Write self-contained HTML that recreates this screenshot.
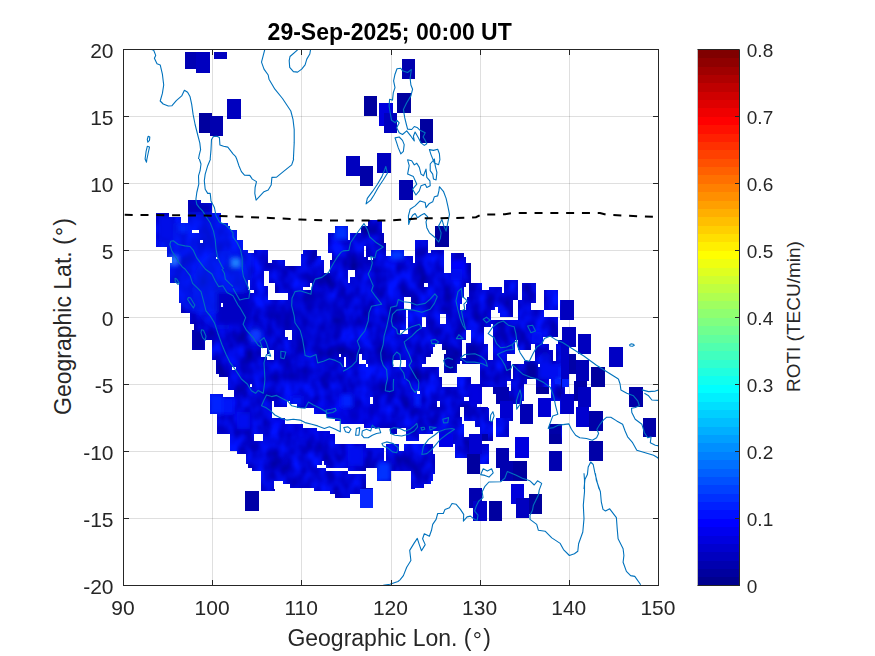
<!DOCTYPE html>
<html><head><meta charset="utf-8"><title>ROTI map</title>
<style>
html,body{margin:0;padding:0;background:#fff;}
body{width:875px;height:656px;overflow:hidden;font-family:"Liberation Sans",sans-serif;}
svg{display:block;}
text{font-family:"Liberation Sans",sans-serif;fill:#262626;}
.tk{font-size:21px;}
.ck{font-size:19px;}
.lb{font-size:23px;}
.tt{font-size:23px;font-weight:bold;fill:#000;}
</style></head><body>
<svg width="875" height="656" viewBox="0 0 875 656">
<rect width="875" height="656" fill="#fff"/>
<defs><clipPath id="ax"><rect x="123.5" y="49.5" width="535.0" height="536.0"/></clipPath></defs>
<g stroke="#262626" stroke-opacity="0.15" stroke-width="1" fill="none" shape-rendering="crispEdges"><path d="M212.5 49.5V585.5M301.5 49.5V585.5M391.5 49.5V585.5M480.5 49.5V585.5M569.5 49.5V585.5"/><path d="M123.5 518.50H658.5M123.5 451.50H658.5M123.5 384.50H658.5M123.5 317.50H658.5M123.5 250.50H658.5M123.5 183.50H658.5M123.5 116.50H658.5"/></g>
<defs><mask id="bm" maskUnits="userSpaceOnUse" x="123.5" y="49.5" width="535.0" height="536.0"><g shape-rendering="crispEdges">
<clipPath id="c1"><rect x="123" y="159" width="146" height="110"/></clipPath>
<g clip-path="url(#c1)">
<polygon points="156.0,213.0 169.4,213.0 169.4,216.8 180.8,216.8 180.8,223.0 187.5,223.0 187.5,199.7 200.6,199.7 200.6,202.9 211.8,202.9 211.8,213.0 220.7,213.0 220.7,223.0 227.8,223.0 227.8,226.4 229.8,226.4 229.8,229.7 236.5,229.7 236.5,239.8 243.2,239.8 243.2,249.9 267.5,249.9 267.5,263.3 269.7,263.3 269.7,269.6 169.9,269.6 169.9,263.3 171.6,263.3 171.6,257.1 167.4,257.1 167.4,246.5 156.0,246.5" fill="#fff"/>
<rect x="192.1" y="229.7" width="6.7" height="3.4" fill="#000"/>
<rect x="200.4" y="239.8" width="2.7" height="3.0" fill="#000"/>
<rect x="247.9" y="249.9" width="6.4" height="3.0" fill="#000"/>
<rect x="216.2" y="257.2" width="2.0" height="2.0" fill="#000"/>
</g>
<clipPath id="c2"><rect x="269" y="159" width="146" height="110"/></clipPath>
<g clip-path="url(#c2)">
<rect x="346.1" y="157.3" width="13.4" height="18.8" fill="#fff"/>
<rect x="377.1" y="157.3" width="13.4" height="15.4" fill="#fff"/>
<polygon points="268.3,263.3 272.0,263.3 272.0,259.9 285.3,259.9 285.3,266.3 300.8,266.3 300.8,253.7 303.4,253.7 303.4,249.9 316.8,249.9 316.8,256.2 321.0,256.2 321.0,259.6 323.5,259.6 323.5,269.6 268.3,269.6" fill="#fff"/>
<polygon points="328.0,233.1 334.7,233.1 334.7,226.4 347.8,226.4 347.8,233.1 361.2,233.1 361.2,226.4 368.2,226.4 368.2,219.7 381.6,219.7 381.6,233.1 383.8,233.1 383.8,242.8 386.0,242.8 386.0,256.2 390.5,256.2 390.5,250.4 403.9,250.4 403.9,256.2 412.8,256.2 412.8,262.9 415.7,262.9 415.7,269.6 330.2,269.6 330.2,259.6 332.4,259.6 332.4,252.9 328.0,252.9" fill="#fff"/>
<rect x="363.7" y="246.2" width="2.5" height="10.9" fill="#000"/>
<rect x="367.9" y="257.1" width="5.0" height="2.8" fill="#000"/>
<rect x="347.8" y="232.9" width="2.5" height="6.7" fill="#000"/>
</g>
<clipPath id="c3"><rect x="415" y="159" width="146" height="110"/></clipPath>
<g clip-path="url(#c3)">
<polygon points="414.3,239.8 428.4,239.8 428.4,252.9 430.6,252.9 430.6,250.4 443.8,250.4 443.8,269.6 414.3,269.6" fill="#fff"/>
<polygon points="450.7,253.2 464.1,253.2 464.1,256.6 466.3,256.6 466.3,263.3 470.8,263.3 470.8,269.6 450.7,269.6" fill="#fff"/>
</g>
<clipPath id="c4"><rect x="123" y="269" width="146" height="110"/></clipPath>
<g clip-path="url(#c4)">
<polygon points="169.9,268.3 269.7,268.3 269.7,379.6 227.8,379.6 227.8,377.1 218.9,377.1 218.9,373.8 216.4,373.8 216.4,360.4 211.8,360.4 211.8,340.2 205.1,340.2 205.1,350.3 192.1,350.3 192.1,330.2 193.7,330.2 193.7,323.5 190.0,323.5 190.0,313.4 181.0,313.4 181.0,303.4 178.8,303.4 178.8,283.2 169.9,283.2" fill="#fff"/>
<rect x="247.9" y="279.9" width="2.5" height="10.1" fill="#000"/>
<rect x="249.9" y="290.0" width="4.4" height="3.4" fill="#000"/>
<rect x="263.8" y="270.7" width="5.9" height="15.1" fill="#000"/>
<rect x="267.5" y="285.8" width="2.2" height="14.2" fill="#000"/>
<rect x="220.7" y="303.4" width="2.5" height="3.4" fill="#000"/>
<rect x="260.8" y="347.8" width="6.4" height="9.2" fill="#000"/>
<rect x="267.2" y="353.6" width="2.5" height="6.7" fill="#000"/>
<rect x="232.3" y="367.4" width="4.0" height="2.3" fill="#000"/>
</g>
<clipPath id="c5"><rect x="269" y="269" width="146" height="110"/></clipPath>
<g clip-path="url(#c5)">
<rect x="268.3" y="268.3" width="147.3" height="111.3" fill="#fff"/>
<rect x="269.0" y="283.2" width="5.9" height="16.8" fill="#000"/>
<rect x="274.9" y="293.3" width="12.9" height="6.7" fill="#000"/>
<rect x="323.5" y="268.3" width="6.7" height="4.9" fill="#000"/>
<rect x="303.4" y="286.6" width="8.9" height="3.4" fill="#000"/>
<rect x="310.1" y="283.2" width="2.2" height="3.4" fill="#000"/>
<rect x="348.1" y="270.3" width="6.7" height="6.2" fill="#000"/>
<rect x="348.1" y="276.5" width="2.2" height="6.7" fill="#000"/>
<rect x="403.9" y="297.2" width="6.7" height="12.9" fill="#000"/>
<rect x="406.1" y="310.1" width="2.3" height="20.1" fill="#000"/>
<rect x="399.7" y="330.2" width="8.7" height="3.4" fill="#000"/>
<rect x="285.3" y="330.2" width="6.7" height="6.7" fill="#000"/>
<rect x="288.3" y="336.9" width="3.7" height="3.4" fill="#000"/>
<rect x="269.0" y="350.3" width="5.4" height="10.1" fill="#000"/>
<rect x="339.1" y="353.6" width="2.3" height="3.4" fill="#000"/>
<rect x="343.6" y="357.0" width="2.2" height="10.1" fill="#000"/>
<rect x="359.2" y="353.6" width="2.3" height="10.1" fill="#000"/>
<rect x="361.5" y="360.4" width="4.4" height="3.4" fill="#000"/>
<rect x="365.9" y="363.7" width="2.0" height="3.4" fill="#000"/>
<rect x="393.0" y="360.4" width="13.1" height="6.7" fill="#000"/>
</g>
<clipPath id="c6"><rect x="415" y="269" width="73" height="55"/></clipPath>
<g clip-path="url(#c6)">
<rect x="414.7" y="268.7" width="73.7" height="55.7" fill="#fff"/>
<rect x="443.9" y="268.7" width="7.0" height="4.7" fill="#000"/>
<rect x="470.7" y="268.7" width="17.6" height="14.6" fill="#000"/>
<rect x="482.0" y="283.2" width="6.3" height="6.7" fill="#000"/>
<rect x="423.8" y="283.2" width="4.6" height="3.5" fill="#000"/>
<rect x="466.3" y="283.2" width="2.3" height="3.8" fill="#000"/>
<rect x="464.0" y="287.0" width="4.6" height="9.6" fill="#000"/>
<rect x="461.9" y="296.7" width="5.4" height="7.5" fill="#000"/>
<rect x="459.8" y="304.2" width="6.3" height="5.9" fill="#000"/>
<rect x="439.5" y="313.8" width="6.7" height="10.5" fill="#000"/>
<rect x="421.7" y="316.8" width="4.4" height="7.5" fill="#000"/>
</g>
<clipPath id="c7"><rect x="488" y="269" width="73" height="55"/></clipPath>
<g clip-path="url(#c7)">
<polygon points="487.7,290.0 488.8,290.0 488.8,287.0 501.8,287.0 501.8,293.3 504.1,293.3 504.1,279.9 517.8,279.9 517.8,300.0 521.9,300.0 521.9,283.4 535.6,283.4 535.6,303.4 531.2,303.4 531.2,310.1 544.2,310.1 544.2,290.0 558.0,290.0 558.0,310.1 544.3,310.1 544.3,316.8 558.0,316.8 558.0,324.3 487.7,324.3" fill="#fff"/>
<rect x="560.1" y="300.0" width="1.3" height="20.1" fill="#fff"/>
<rect x="513.1" y="300.4" width="4.6" height="17.2" fill="#000"/>
<rect x="491.4" y="317.2" width="26.4" height="2.9" fill="#000"/>
<rect x="491.4" y="310.1" width="6.7" height="7.1" fill="#000"/>
<rect x="495.1" y="307.1" width="2.9" height="2.9" fill="#000"/>
<rect x="498.1" y="313.4" width="1.7" height="3.8" fill="#000"/>
</g>
<clipPath id="c8"><rect x="415" y="324" width="73" height="55"/></clipPath>
<g clip-path="url(#c8)">
<rect x="414.7" y="323.7" width="73.7" height="55.7" fill="#fff"/>
<rect x="421.7" y="323.7" width="4.4" height="3.3" fill="#000"/>
<rect x="466.1" y="330.0" width="4.6" height="13.2" fill="#000"/>
<rect x="461.9" y="340.3" width="4.2" height="17.2" fill="#000"/>
<rect x="484.1" y="326.9" width="4.2" height="16.8" fill="#000"/>
<rect x="435.1" y="343.7" width="6.7" height="3.4" fill="#000"/>
<rect x="433.0" y="347.0" width="8.8" height="3.4" fill="#000"/>
<rect x="433.0" y="350.4" width="13.0" height="3.4" fill="#000"/>
<rect x="430.5" y="353.8" width="13.4" height="3.4" fill="#000"/>
<rect x="425.9" y="357.1" width="18.0" height="6.7" fill="#000"/>
<rect x="421.7" y="363.8" width="22.2" height="2.9" fill="#000"/>
<rect x="439.3" y="366.7" width="4.6" height="6.7" fill="#000"/>
<rect x="439.3" y="373.4" width="18.0" height="3.4" fill="#000"/>
<rect x="441.8" y="376.8" width="15.5" height="2.5" fill="#000"/>
<rect x="459.8" y="360.9" width="2.1" height="2.9" fill="#000"/>
<rect x="457.3" y="363.8" width="22.6" height="9.6" fill="#000"/>
<rect x="457.3" y="373.4" width="22.6" height="3.4" fill="#000"/>
<rect x="470.7" y="376.8" width="9.2" height="2.5" fill="#000"/>
</g>
<clipPath id="c9"><rect x="488" y="324" width="73" height="55"/></clipPath>
<g clip-path="url(#c9)">
<rect x="487.7" y="323.7" width="73.7" height="55.7" fill="#fff"/>
<rect x="488.0" y="326.9" width="5.0" height="33.5" fill="#000"/>
<rect x="490.5" y="323.7" width="2.5" height="3.3" fill="#000"/>
<rect x="558.0" y="323.7" width="3.4" height="16.3" fill="#000"/>
<rect x="542.5" y="337.0" width="15.5" height="6.7" fill="#000"/>
<rect x="549.2" y="343.7" width="6.5" height="6.7" fill="#000"/>
<rect x="553.0" y="350.4" width="2.8" height="10.1" fill="#000"/>
<rect x="515.2" y="340.3" width="2.5" height="13.0" fill="#000"/>
<rect x="530.7" y="343.7" width="4.6" height="6.3" fill="#000"/>
<rect x="514.8" y="350.0" width="20.5" height="3.8" fill="#000"/>
<rect x="506.9" y="353.8" width="28.5" height="6.7" fill="#000"/>
<rect x="511.0" y="360.5" width="13.4" height="3.4" fill="#000"/>
<rect x="511.0" y="363.8" width="2.1" height="15.5" fill="#000"/>
<rect x="537.9" y="364.1" width="2.1" height="2.8" fill="#000"/>
</g>
<clipPath id="c10"><rect x="561" y="269" width="146" height="110"/></clipPath>
<g clip-path="url(#c10)">
<rect x="560.3" y="340.2" width="8.7" height="39.4" fill="#fff"/>
</g>
<clipPath id="c11"><rect x="123" y="379" width="146" height="110"/></clipPath>
<g clip-path="url(#c11)">
<polygon points="227.8,378.3 269.7,378.3 269.7,489.6 261.3,489.6 261.3,470.9 252.1,470.9 252.1,467.5 247.9,467.5 247.9,464.2 245.7,464.2 245.7,454.1 237.0,454.1 237.0,450.7 230.3,450.7 230.3,434.0 216.5,434.0 216.5,414.2 209.7,414.2 209.7,394.1 223.1,394.1 223.1,397.1 234.1,397.1 234.1,390.4 227.8,390.4" fill="#fff"/>
<rect x="254.2" y="434.0" width="9.2" height="6.7" fill="#000"/>
<rect x="249.9" y="384.0" width="2.2" height="3.0" fill="#000"/>
</g>
<clipPath id="c12"><rect x="269" y="379" width="146" height="110"/></clipPath>
<g clip-path="url(#c12)">
<rect x="268.3" y="378.3" width="147.3" height="111.3" fill="#fff"/>
<polygon points="272.0,400.5 274.0,400.5 274.0,406.7 287.4,406.7 287.4,400.5 290.0,400.5 290.0,404.1 296.7,404.1 296.7,407.5 314.3,407.5 314.3,414.2 326.8,414.2 326.8,417.6 335.2,417.6 335.2,420.9 341.1,420.9 341.1,424.3 363.7,424.3 363.7,427.6 389.7,427.6 389.7,434.3 397.2,434.3 397.2,427.6 406.1,427.6 406.1,441.0 415.7,441.0 415.7,444.4 403.9,444.4 403.9,450.7 398.9,450.7 398.9,444.4 385.8,444.4 385.8,461.1 383.8,461.1 383.8,447.7 366.2,447.7 366.2,444.4 335.2,444.4 335.2,434.3 330.2,434.3 330.2,430.6 316.8,430.6 316.8,427.6 303.4,427.6 303.4,423.9 285.3,423.9 285.3,417.6 272.0,417.6" fill="#000"/>
<rect x="316.8" y="464.5" width="9.2" height="3.4" fill="#000"/>
<rect x="321.8" y="461.1" width="1.7" height="3.4" fill="#000"/>
<rect x="326.0" y="467.8" width="21.8" height="3.0" fill="#000"/>
<rect x="347.8" y="470.9" width="20.1" height="3.4" fill="#000"/>
<rect x="366.2" y="467.8" width="10.9" height="19.8" fill="#000"/>
<rect x="372.9" y="481.3" width="37.7" height="8.4" fill="#000"/>
<rect x="390.5" y="470.9" width="20.1" height="10.4" fill="#000"/>
<rect x="274.0" y="481.3" width="9.2" height="8.4" fill="#000"/>
<rect x="283.2" y="484.3" width="6.7" height="5.4" fill="#000"/>
<rect x="290.0" y="487.6" width="24.3" height="2.0" fill="#000"/>
<rect x="370.1" y="397.1" width="2.5" height="6.7" fill="#000"/>
</g>
<clipPath id="c13"><rect x="415" y="379" width="73" height="55"/></clipPath>
<g clip-path="url(#c13)">
<rect x="414.7" y="378.7" width="73.7" height="55.7" fill="#fff"/>
<rect x="441.8" y="378.7" width="15.3" height="8.5" fill="#000"/>
<rect x="470.9" y="378.7" width="9.1" height="5.4" fill="#000"/>
<rect x="482.0" y="387.1" width="6.3" height="19.9" fill="#000"/>
<rect x="477.4" y="404.1" width="4.6" height="2.9" fill="#000"/>
<rect x="464.0" y="397.0" width="4.6" height="3.8" fill="#000"/>
<rect x="437.2" y="400.8" width="2.3" height="6.3" fill="#000"/>
<rect x="459.8" y="407.1" width="4.2" height="10.1" fill="#000"/>
<rect x="461.9" y="417.1" width="2.1" height="6.7" fill="#000"/>
<rect x="464.0" y="420.5" width="10.9" height="13.8" fill="#000"/>
<rect x="474.9" y="427.2" width="5.0" height="7.1" fill="#000"/>
<rect x="417.1" y="390.7" width="2.5" height="3.4" fill="#000"/>
<rect x="433.0" y="431.0" width="6.3" height="3.4" fill="#000"/>
</g>
<clipPath id="c14"><rect x="488" y="379" width="73" height="55"/></clipPath>
<g clip-path="url(#c14)">
<rect x="487.7" y="378.7" width="18.8" height="8.5" fill="#fff"/>
<rect x="493.0" y="387.1" width="15.5" height="7.0" fill="#fff"/>
<rect x="495.5" y="394.1" width="13.0" height="9.6" fill="#fff"/>
<rect x="511.0" y="378.7" width="15.5" height="5.4" fill="#fff"/>
<rect x="511.0" y="384.0" width="13.0" height="6.7" fill="#fff"/>
<rect x="508.5" y="390.7" width="15.5" height="10.1" fill="#fff"/>
<rect x="506.4" y="378.7" width="4.6" height="2.0" fill="#fff"/>
<rect x="499.7" y="400.8" width="13.4" height="16.8" fill="#fff"/>
<rect x="513.1" y="400.8" width="8.8" height="3.4" fill="#fff"/>
<rect x="519.8" y="404.1" width="13.4" height="19.7" fill="#fff"/>
<rect x="495.5" y="417.6" width="13.0" height="16.8" fill="#fff"/>
<rect x="508.5" y="417.6" width="4.6" height="2.9" fill="#fff"/>
<rect x="487.7" y="407.5" width="1.2" height="13.4" fill="#fff"/>
<rect x="487.7" y="420.9" width="5.4" height="13.4" fill="#fff"/>
<rect x="535.6" y="378.7" width="13.6" height="8.5" fill="#fff"/>
<rect x="535.6" y="387.1" width="13.6" height="6.5" fill="#fff"/>
<rect x="551.3" y="378.7" width="10.1" height="22.1" fill="#fff"/>
<rect x="555.0" y="378.7" width="6.3" height="5.4" fill="#fff"/>
<rect x="538.1" y="397.6" width="12.7" height="19.5" fill="#fff"/>
<rect x="560.1" y="400.8" width="1.3" height="13.0" fill="#fff"/>
<rect x="549.2" y="424.3" width="12.2" height="10.1" fill="#fff"/>
</g>
<clipPath id="c15"><rect x="415" y="434" width="73" height="55"/></clipPath>
<g clip-path="url(#c15)">
<rect x="414.7" y="433.7" width="4.5" height="7.0" fill="#fff"/>
<rect x="414.7" y="444.1" width="18.4" height="10.1" fill="#fff"/>
<rect x="414.7" y="454.1" width="20.5" height="19.7" fill="#fff"/>
<rect x="414.7" y="473.8" width="18.4" height="7.1" fill="#fff"/>
<rect x="414.7" y="480.9" width="15.8" height="3.2" fill="#fff"/>
<rect x="414.7" y="484.1" width="9.1" height="3.5" fill="#fff"/>
<rect x="439.3" y="433.7" width="13.8" height="13.7" fill="#fff"/>
<rect x="453.1" y="433.7" width="10.9" height="10.4" fill="#fff"/>
<rect x="464.0" y="437.4" width="4.6" height="6.7" fill="#fff"/>
<rect x="455.2" y="444.1" width="13.4" height="13.4" fill="#fff"/>
<rect x="468.6" y="433.7" width="13.4" height="20.5" fill="#fff"/>
<rect x="466.5" y="454.1" width="13.4" height="19.7" fill="#fff"/>
<rect x="480.0" y="444.1" width="8.4" height="19.7" fill="#fff"/>
<rect x="482.0" y="433.7" width="6.3" height="7.0" fill="#fff"/>
</g>
<clipPath id="c16"><rect x="488" y="434" width="73" height="55"/></clipPath>
<g clip-path="url(#c16)">
<rect x="487.7" y="433.7" width="5.4" height="7.0" fill="#fff"/>
<rect x="495.5" y="433.7" width="13.2" height="3.7" fill="#fff"/>
<rect x="487.7" y="444.1" width="1.2" height="19.7" fill="#fff"/>
<rect x="495.5" y="447.6" width="13.2" height="19.9" fill="#fff"/>
<rect x="500.2" y="461.0" width="26.6" height="19.9" fill="#fff"/>
<rect x="513.1" y="461.0" width="13.6" height="19.9" fill="#fff"/>
<rect x="515.2" y="437.4" width="13.7" height="20.1" fill="#fff"/>
<rect x="549.2" y="433.7" width="12.2" height="10.2" fill="#fff"/>
<rect x="549.2" y="450.8" width="12.2" height="20.1" fill="#fff"/>
</g>
<clipPath id="c17"><rect x="561" y="379" width="146" height="110"/></clipPath>
<g clip-path="url(#c17)">
<rect x="560.3" y="378.3" width="8.7" height="9.1" fill="#fff"/>
<rect x="560.3" y="387.4" width="4.4" height="26.8" fill="#fff"/>
<rect x="560.3" y="424.3" width="2.0" height="19.8" fill="#fff"/>
<rect x="560.3" y="450.7" width="2.0" height="20.1" fill="#fff"/>
<rect x="560.3" y="376.7" width="2.0" height="12.1" fill="#fff"/>
<rect x="591.2" y="377.3" width="13.7" height="9.7" fill="#fff"/>
</g>
<clipPath id="c18"><rect x="196" y="489" width="73" height="81"/></clipPath>
<g clip-path="url(#c18)">
<rect x="261.0" y="486.8" width="13.2" height="3.9" fill="#fff"/>
</g>
<clipPath id="c19"><rect x="269" y="489" width="146" height="110"/></clipPath>
<g clip-path="url(#c19)">
<rect x="268.3" y="488.3" width="6.5" height="2.7" fill="#fff"/>
<rect x="314.3" y="488.3" width="15.9" height="2.7" fill="#fff"/>
<rect x="330.2" y="488.3" width="5.0" height="6.0" fill="#fff"/>
<rect x="335.2" y="488.3" width="15.1" height="9.4" fill="#fff"/>
<rect x="350.3" y="488.3" width="9.2" height="6.0" fill="#fff"/>
<rect x="359.5" y="487.7" width="13.1" height="20.1" fill="#fff"/>
</g>
<rect x="185.0" y="52.0" width="13.4" height="16.8" fill="#fff"/>
<rect x="196.3" y="52.0" width="13.4" height="20.5" fill="#fff"/>
<rect x="214.0" y="52.0" width="13.4" height="6.7" fill="#fff"/>
<rect x="227.4" y="99.0" width="13.4" height="20.1" fill="#fff"/>
<rect x="198.8" y="112.7" width="13.1" height="19.8" fill="#fff"/>
<rect x="209.7" y="116.0" width="13.4" height="20.1" fill="#fff"/>
<rect x="401.8" y="59.1" width="13.4" height="20.1" fill="#fff"/>
<rect x="363.7" y="95.9" width="13.4" height="20.1" fill="#fff"/>
<rect x="397.2" y="92.6" width="13.4" height="20.1" fill="#fff"/>
<rect x="379.3" y="102.6" width="13.4" height="23.5" fill="#fff"/>
<rect x="383.8" y="112.7" width="13.4" height="19.8" fill="#fff"/>
<rect x="346.1" y="156.3" width="13.4" height="20.1" fill="#fff"/>
<rect x="377.1" y="152.9" width="13.4" height="20.1" fill="#fff"/>
<rect x="419.7" y="119.4" width="13.2" height="23.5" fill="#fff"/>
<rect x="359.5" y="166.0" width="13.1" height="20.1" fill="#fff"/>
<rect x="399.4" y="179.5" width="13.4" height="20.1" fill="#fff"/>
<rect x="435.1" y="226.4" width="13.4" height="20.1" fill="#fff"/>
<rect x="561.0" y="300.0" width="12.6" height="20.1" fill="#fff"/>
<rect x="562.3" y="326.8" width="13.4" height="20.1" fill="#fff"/>
<rect x="577.8" y="333.5" width="13.4" height="20.1" fill="#fff"/>
<rect x="609.3" y="346.9" width="13.4" height="20.1" fill="#fff"/>
<rect x="566.9" y="353.6" width="8.9" height="20.1" fill="#fff"/>
<rect x="575.8" y="360.4" width="13.4" height="20.1" fill="#fff"/>
<rect x="591.2" y="367.1" width="13.7" height="20.1" fill="#fff"/>
<rect x="561.0" y="394.1" width="12.6" height="20.1" fill="#fff"/>
<rect x="573.6" y="380.7" width="13.4" height="19.8" fill="#fff"/>
<rect x="577.8" y="387.4" width="13.4" height="19.8" fill="#fff"/>
<rect x="575.8" y="407.2" width="13.4" height="20.1" fill="#fff"/>
<rect x="589.2" y="410.8" width="13.4" height="19.8" fill="#fff"/>
<rect x="589.2" y="441.0" width="13.4" height="19.8" fill="#fff"/>
<rect x="629.4" y="387.0" width="13.4" height="20.1" fill="#fff"/>
<rect x="642.8" y="417.6" width="13.4" height="19.8" fill="#fff"/>
<rect x="245.1" y="491.0" width="13.7" height="19.8" fill="#fff"/>
<rect x="468.6" y="487.6" width="13.4" height="19.9" fill="#fff"/>
<rect x="473.2" y="501.1" width="13.4" height="19.9" fill="#fff"/>
<rect x="488.8" y="501.1" width="13.4" height="19.9" fill="#fff"/>
<rect x="511.0" y="484.3" width="13.4" height="19.9" fill="#fff"/>
<rect x="515.6" y="497.7" width="13.4" height="19.9" fill="#fff"/>
<rect x="529.0" y="494.4" width="13.4" height="19.9" fill="#fff"/>

</g></mask><filter id="bl" x="-50%" y="-50%" width="200%" height="200%"><feGaussianBlur stdDeviation="2.2"/></filter><filter id="nz" x="0" y="0" width="100%" height="100%" color-interpolation-filters="sRGB"><feTurbulence type="fractalNoise" baseFrequency="0.075 0.055" numOctaves="2" seed="7" result="n"/><feColorMatrix in="n" type="matrix" values="0 0 0 0 0  0.18 0 0 0 -0.07  0.6 0 0 0 0.54  0 0 0 0 1"/></filter></defs>
<g clip-path="url(#ax)"><g mask="url(#bm)"><rect x="123.5" y="49.5" width="535.0" height="536.0" fill="#0000d6" filter="url(#nz)"/>
<g filter="url(#bl)">
<ellipse cx="545" cy="364" rx="7" ry="12" fill="#0018f8" opacity="0.5"/>
<ellipse cx="562.5" cy="378" rx="6" ry="7" fill="#1858ff" opacity="0.9"/>
<ellipse cx="330" cy="420" rx="60" ry="20" fill="#0010f0" opacity="0.3"/>
<ellipse cx="310" cy="320" rx="35" ry="30" fill="#0000b8" opacity="0.35"/>
<ellipse cx="222" cy="290" rx="30" ry="40" fill="#0018f0" opacity="0.3"/>
<ellipse cx="255.5" cy="334.7" rx="6" ry="6" fill="#1068ff" opacity="0.9"/>
<ellipse cx="205" cy="262" rx="48" ry="52" fill="#0028ff" opacity="0.45"/>
<rect x="187.5" y="202.9" width="24.3" height="10.1" fill="#0000b8"/>
<rect x="169.9" y="255.4" width="8.4" height="9.6" fill="#2070ff"/>
<rect x="231.1" y="258.2" width="9.2" height="9.2" fill="#1c80ff"/>
<rect x="178.3" y="224.4" width="9.2" height="8.4" fill="#0028f8"/>
<rect x="159.0" y="216.0" width="14.2" height="23.5" fill="#0008e8"/>
<rect x="334.7" y="226.4" width="13.1" height="13.1" fill="#0030ff"/>
<rect x="390.5" y="250.4" width="13.4" height="9.2" fill="#0038ff"/>
<rect x="450.7" y="259.6" width="14.6" height="10.1" fill="#0000ff"/>
<rect x="192.1" y="330.2" width="13.1" height="20.1" fill="#0000a8"/>
<rect x="216.9" y="292.5" width="33.5" height="31.8" fill="#0000c4"/>
<rect x="250.4" y="329.3" width="10.1" height="13.4" fill="#0838ff"/>
<rect x="332.7" y="317.6" width="8.4" height="5.9" fill="#0000a0"/>
<rect x="451.0" y="269.0" width="10.9" height="10.9" fill="#0010f0"/>
<rect x="487.7" y="310.1" width="3.5" height="14.2" fill="#0010f0"/>
<rect x="443.9" y="353.8" width="13.4" height="19.7" fill="#0000a8"/>
<rect x="466.5" y="343.7" width="11.3" height="18.0" fill="#0000a8"/>
<rect x="531.6" y="332.4" width="10.1" height="10.9" fill="#0010f0"/>
<rect x="538.3" y="364.2" width="23.0" height="15.1" fill="#0010f0"/>
<rect x="524.9" y="362.6" width="13.4" height="16.8" fill="#0000a0"/>
<rect x="560.3" y="366.2" width="8.7" height="13.4" fill="#0020ff"/>
<rect x="209.7" y="394.1" width="13.4" height="20.1" fill="#0020ff"/>
<rect x="223.1" y="397.1" width="11.1" height="17.1" fill="#0018f8"/>
<rect x="237.0" y="412.5" width="13.4" height="16.8" fill="#0010f0"/>
<rect x="341.1" y="394.1" width="11.7" height="13.4" fill="#0020ff"/>
<rect x="290.8" y="395.8" width="11.7" height="10.1" fill="#0018f8"/>
<rect x="377.1" y="462.8" width="13.4" height="18.4" fill="#0030ff"/>
<rect x="347.8" y="446.0" width="15.1" height="20.1" fill="#0010f0"/>
<rect x="415.0" y="394.1" width="5.0" height="12.6" fill="#0020ff"/>
<rect x="468.6" y="384.0" width="13.4" height="20.1" fill="#0000e0"/>

</g>
<g shape-rendering="crispEdges">
<rect x="185.0" y="52.0" width="13.4" height="16.8" fill="#0000b3"/>
<rect x="196.3" y="52.0" width="13.4" height="20.5" fill="#0000bf"/>
<rect x="214.0" y="52.0" width="13.4" height="6.7" fill="#0000bf"/>
<rect x="227.4" y="99.0" width="13.4" height="20.1" fill="#0000bf"/>
<rect x="198.8" y="112.7" width="13.1" height="19.8" fill="#00009f"/>
<rect x="209.7" y="116.0" width="13.4" height="20.1" fill="#0000af"/>
<rect x="401.8" y="59.1" width="13.4" height="20.1" fill="#0000af"/>
<rect x="363.7" y="95.9" width="13.4" height="20.1" fill="#00009f"/>
<rect x="397.2" y="92.6" width="13.4" height="20.1" fill="#00009f"/>
<rect x="379.3" y="102.6" width="13.4" height="23.5" fill="#0000df"/>
<rect x="383.8" y="112.7" width="13.4" height="19.8" fill="#0000bf"/>
<rect x="346.1" y="156.3" width="13.4" height="20.1" fill="#0000bf"/>
<rect x="377.1" y="152.9" width="13.4" height="20.1" fill="#0000bf"/>
<rect x="419.7" y="119.4" width="13.2" height="23.5" fill="#00009f"/>
<rect x="359.5" y="166.0" width="13.1" height="20.1" fill="#0000a8"/>
<rect x="399.4" y="179.5" width="13.4" height="20.1" fill="#0000af"/>
<rect x="435.1" y="226.4" width="13.4" height="20.1" fill="#00009f"/>
<rect x="561.0" y="300.0" width="12.6" height="20.1" fill="#0000bf"/>
<rect x="562.3" y="326.8" width="13.4" height="20.1" fill="#0000bf"/>
<rect x="577.8" y="333.5" width="13.4" height="20.1" fill="#0000bf"/>
<rect x="609.3" y="346.9" width="13.4" height="20.1" fill="#0000c4"/>
<rect x="566.9" y="353.6" width="8.9" height="20.1" fill="#0000a8"/>
<rect x="575.8" y="360.4" width="13.4" height="20.1" fill="#0000b8"/>
<rect x="591.2" y="367.1" width="13.7" height="20.1" fill="#00009f"/>
<rect x="561.0" y="394.1" width="12.6" height="20.1" fill="#0000c8"/>
<rect x="573.6" y="380.7" width="13.4" height="19.8" fill="#0000a8"/>
<rect x="577.8" y="387.4" width="13.4" height="19.8" fill="#0000c0"/>
<rect x="575.8" y="407.2" width="13.4" height="20.1" fill="#0000d0"/>
<rect x="589.2" y="410.8" width="13.4" height="19.8" fill="#0000a8"/>
<rect x="589.2" y="441.0" width="13.4" height="19.8" fill="#0000a8"/>
<rect x="629.4" y="387.0" width="13.4" height="20.1" fill="#0000a8"/>
<rect x="642.8" y="417.6" width="13.4" height="19.8" fill="#0000a8"/>
<rect x="245.1" y="491.0" width="13.7" height="19.8" fill="#0000a8"/>
<rect x="468.6" y="487.6" width="13.4" height="19.9" fill="#0000b0"/>
<rect x="473.2" y="501.1" width="13.4" height="19.9" fill="#0000c8"/>
<rect x="488.8" y="501.1" width="13.4" height="19.9" fill="#0000a0"/>
<rect x="511.0" y="484.3" width="13.4" height="19.9" fill="#0000dc"/>
<rect x="515.6" y="497.7" width="13.4" height="19.9" fill="#0000c0"/>
<rect x="529.0" y="494.4" width="13.4" height="19.9" fill="#00009c"/>
<rect x="346.1" y="159.0" width="13.4" height="17.1" fill="#0000bf"/>
<rect x="377.1" y="159.0" width="13.4" height="13.7" fill="#0000bf"/>
<rect x="561.0" y="340.2" width="8.0" height="38.8" fill="#0000c8"/>
<rect x="493.0" y="387.1" width="15.5" height="7.0" fill="#0000b0"/>
<rect x="495.5" y="394.1" width="13.0" height="9.6" fill="#0000b0"/>
<rect x="499.7" y="400.8" width="13.4" height="16.8" fill="#0000d0"/>
<rect x="519.8" y="404.1" width="13.4" height="19.7" fill="#0000b4"/>
<rect x="535.6" y="387.1" width="13.6" height="6.5" fill="#0000a0"/>
<rect x="555.0" y="379.0" width="6.0" height="5.0" fill="#0020ff"/>
<rect x="538.1" y="397.6" width="12.7" height="19.5" fill="#0000d4"/>
<rect x="549.2" y="424.3" width="11.8" height="9.7" fill="#0000a8"/>
<rect x="439.3" y="434.0" width="13.8" height="13.4" fill="#0000e8"/>
<rect x="468.6" y="434.0" width="13.4" height="20.1" fill="#0000d0"/>
<rect x="466.5" y="454.1" width="13.4" height="19.7" fill="#0000a0"/>
<rect x="482.0" y="434.0" width="6.0" height="6.7" fill="#0000a8"/>
<rect x="495.5" y="447.6" width="13.2" height="19.9" fill="#0000b0"/>
<rect x="500.2" y="461.0" width="26.6" height="19.9" fill="#0000b0"/>
<rect x="513.1" y="461.0" width="13.6" height="19.9" fill="#0000a0"/>
<rect x="515.2" y="437.4" width="13.7" height="20.1" fill="#0000e0"/>
<rect x="549.2" y="434.0" width="11.8" height="9.9" fill="#0000a0"/>
<rect x="549.2" y="450.8" width="11.8" height="20.1" fill="#0000b0"/>
<rect x="561.0" y="379.0" width="8.0" height="8.4" fill="#0020ff"/>
<rect x="561.0" y="450.7" width="1.3" height="20.1" fill="#0000b0"/>
<rect x="561.0" y="379.0" width="1.3" height="9.7" fill="#0000a0"/>
<rect x="591.2" y="379.0" width="13.7" height="8.0" fill="#00009f"/>
<rect x="359.5" y="489.0" width="13.1" height="18.8" fill="#0828ff"/>

</g></g>
<path d="M150.7 49.3 153.7 50.3 155.7 55.4 154.4 58.2 157.0 63.8 160.2 64.9 162.4 74.2 163.7 85.0 162.4 93.4 160.2 101.0 163.2 104.0 168.3 106.0 172.0 105.7 176.3 100.6 181.7 95.9 184.4 90.2 187.6 92.3 190.1 96.8 191.7 104.3 193.1 114.4 195.1 124.5 197.6 134.5 199.8 142.9 200.6 149.6 199.3 154.6 198.5 159.0M210.2 159.0 211.0 149.6 211.5 139.5 213.5 136.5 216.9 136.2 219.4 137.5 219.9 144.9 223.6 146.3 227.8 147.1 231.1 151.3 233.0 153.8 235.5 156.3 236.7 159.0M148.2 136.2 149.8 137.0 149.5 140.4 147.8 142.1 147.3 139.5ZM147.3 146.3 149.5 147.1 148.2 153.0 146.8 159.7 146.5 162.2 145.1 159.0 146.1 151.3ZM264.9 49.0 263.2 55.7 261.5 62.1 264.0 69.1 268.2 75.0 269.0 79.2 274.9 89.2 282.5 98.5 290.8 111.0 293.0 119.4 294.2 129.5 294.2 142.9 293.7 153.0 293.4 159.0M297.6 49.8 290.0 56.5 289.2 60.7 289.7 67.4 293.4 71.6 297.6 72.1 301.7 69.1 305.1 64.9 306.8 59.1 309.8 54.0 310.5 49.8M397.0 68.8 400.8 68.3 402.5 70.8 407.6 72.5 411.4 69.5 410.1 78.3 410.9 85.0 412.6 89.2 410.9 95.9 406.7 102.7 403.4 109.4 404.7 117.7 406.4 124.5 407.6 129.1 411.7 129.5 414.3 126.5 417.6 127.8 420.1 130.3 425.2 132.8 423.1 137.0 425.2 140.4 426.8 143.7 424.3 145.4 421.0 142.9 418.5 137.9 415.1 132.0 413.4 136.2 414.3 140.9 410.9 136.2 406.7 130.8 402.5 134.5 399.2 132.8 396.7 127.8 399.2 122.8 397.0 120.3 395.3 122.8 391.6 120.3 390.5 114.4 389.1 106.0 389.6 99.3 392.5 100.1 393.3 92.6 395.0 87.6 393.6 80.9 395.0 74.2ZM395.0 137.9 399.2 137.0 402.5 140.4 404.2 144.6 403.4 151.3 400.8 153.8 398.3 147.9 396.7 142.9ZM429.4 149.6 433.5 150.4 437.7 149.3 439.4 153.8 439.9 159.7 438.6 164.7 434.4 163.0 431.0 154.6ZM199.3 159.0 201.0 164.0 200.1 170.7 198.5 175.8 198.8 184.2 196.8 192.5 195.9 199.2 196.8 204.3 199.3 207.6 202.6 211.0 206.8 217.7 210.2 222.7 213.5 231.1 215.2 239.5 216.1 249.5 217.7 257.9 221.9 266.3 223.6 269.0M210.5 159.0 207.7 165.7 205.2 174.1 204.3 180.8 205.2 189.2 207.7 193.4 210.2 193.4 211.0 200.9 214.4 207.6 216.1 216.0 219.4 221.9 225.3 224.7 230.3 229.4 233.0 232.8M185.0 269.0 182.5 267.1 179.2 263.0 175.0 256.3 171.6 250.4 169.9 244.5 170.8 241.2 173.3 240.8 178.3 244.5 185.0 245.9 190.1 246.5 193.4 250.4 196.8 257.9 201.8 264.6 205.2 269.0M236.7 159.0 238.9 165.7 241.4 171.6 244.7 175.3 249.8 175.4 252.3 179.1 256.5 181.6 255.1 187.5 254.8 193.4 256.1 200.1 259.8 196.2 264.0 191.7 268.2 190.0 271.2 185.0 271.9 177.4 276.6 177.1 283.3 171.6 291.7 164.9 293.7 159.0M233.0 232.8 233.0 237.0 237.2 242.8 240.5 249.5 242.2 257.9 242.2 269.0M330.3 269.0 333.6 263.0 337.8 256.3 341.1 252.1 343.0 250.9M385.8 166.5 387.4 173.3 383.2 180.0 378.2 187.5 374.0 195.0 370.7 200.1 366.1 203.9 367.3 198.4 372.3 191.7 377.4 184.2 381.9 176.6 384.6 169.9ZM407.6 159.8 409.2 165.7 407.6 174.1 413.4 176.6 416.8 184.2 412.6 189.2 415.9 195.0 419.3 190.9 421.0 185.8 425.2 184.2 426.8 187.5 430.2 185.8 429.9 180.8 426.8 177.4 426.0 169.1 423.5 175.8 421.0 174.1 419.3 167.4 416.8 163.2 414.3 164.9 411.7 160.7ZM430.2 164.0 434.4 159.0 435.2 165.7 436.9 172.4 436.1 180.0 433.5 179.1 432.7 174.1 430.2 170.7ZM439.4 186.7 443.6 191.7 446.1 198.4 447.8 205.9 449.5 214.3 447.8 222.7 446.1 231.1 443.6 225.2 441.9 219.4 438.6 226.1 441.1 232.8 440.3 238.6 438.6 242.0 434.4 237.0 429.4 232.8 426.8 227.7 426.0 221.9 427.7 216.8 424.3 213.5 421.0 215.2 417.6 217.7 415.1 213.5 412.6 215.2 410.1 220.2 408.7 224.4 408.4 216.0 410.1 209.3 415.1 205.9 420.1 200.9 425.2 202.6 426.0 207.6 429.4 203.4 432.7 201.8 434.4 196.7 437.7 195.9 438.9 190.9ZM343.0 250.9 348.9 250.4 350.5 242.8 357.3 232.8 364.0 223.6 367.3 229.4 369.8 237.0 376.5 242.8 383.2 247.0 376.5 251.2 374.9 257.9 370.7 256.3 372.3 263.0 370.7 269.0M185.0 269.0 190.1 275.7 192.6 283.3 196.8 287.4 201.0 291.6 203.5 300.9 206.0 310.9 210.2 315.9 214.4 322.7 217.7 332.7 221.9 344.5 226.1 354.5 230.3 362.9 233.0 366.3M205.2 269.0 211.9 274.0 215.2 280.7 218.6 286.6 222.8 285.8 227.0 292.5 233.0 295.8M221.9 269.0 224.4 273.2 225.3 279.1 230.3 284.1 233.0 286.6M175.0 278.2 176.7 279.1 179.2 283.3 178.0 284.4 175.3 281.6ZM188.4 297.5 190.4 297.8 194.8 305.0 193.4 307.9 190.1 303.4 187.6 299.2ZM201.5 329.7 203.5 330.2 206.0 336.1 205.2 340.3 202.6 337.7 201.0 332.7ZM242.2 269.0 243.4 276.5 247.3 284.9 249.8 291.6 248.9 298.3 244.7 298.8 239.7 300.0 236.4 294.2 233.0 288.3M233.0 295.8 238.0 305.0 240.5 308.4 245.6 317.6 243.1 324.3 246.4 330.2 253.1 337.7 258.2 345.3 262.3 347.8 259.8 341.1 264.0 337.7 266.5 342.8 269.0 351.2 270.7 356.2 266.5 354.5 264.0 362.9 264.9 379.0M280.8 351.2 285.8 352.0 284.1 358.7 280.8 357.9ZM330.3 269.0 328.6 272.4 321.9 277.4 315.2 279.1 311.8 287.4 311.0 294.2 300.1 290.8 295.0 291.6 292.0 298.3 291.7 305.9 294.2 315.9 295.0 322.7 300.1 330.2 302.6 339.4 304.3 349.5 305.1 355.4 310.1 357.0 316.0 354.5 317.7 362.9 323.5 361.2 329.4 358.7 335.3 360.4 340.3 362.9 343.0 367.1M233.0 366.3 236.4 371.3 239.7 376.3 241.4 379.0M370.7 269.0 368.2 274.0 370.7 279.9 373.2 285.8 371.5 290.8 375.7 296.7 381.6 304.2 371.5 306.2 369.0 312.6 368.2 321.0 364.8 331.0 360.6 336.1 357.3 341.1 359.8 347.8 357.3 354.5 356.4 361.2 351.4 366.3 346.4 369.6 343.0 371.3M387.4 379.0 386.6 369.6 383.2 365.4 381.2 359.5 380.7 352.8 383.2 344.5 384.1 336.1 386.9 326.0 388.3 319.3 390.8 307.2 396.7 305.9 398.3 299.5 403.4 301.7 410.1 302.5 416.8 305.0 425.2 303.4 430.2 299.2 434.9 293.8 437.2 296.7 434.4 303.4 430.2 309.2 421.8 312.3 413.4 310.1 405.0 309.2 396.7 310.1 392.5 314.3 391.3 321.0 392.5 326.0 396.7 329.4 397.5 333.6 400.8 334.4 405.0 330.2 411.7 326.8 419.3 324.3 421.5 327.7 416.8 331.0 411.7 336.1 404.2 341.9 405.9 347.8 409.2 354.5 411.7 361.2 409.2 365.4 413.4 373.0 416.8 379.0M405.0 379.0 403.7 373.0 400.0 367.9 400.8 362.1 400.0 354.5 396.7 352.0 393.3 356.2 392.5 362.9 393.3 366.3M431.0 340.3 435.2 339.4 438.6 341.9 436.9 343.6 431.9 343.6ZM453.0 359.5 447.8 357.9 443.6 360.4 445.3 365.4 450.3 367.9 453.0 367.1M461.4 288.3 458.0 291.6 456.0 300.9 458.0 310.1 460.5 319.3 463.1 326.0 465.6 329.4 463.1 319.3 461.4 310.9 464.7 309.2 463.9 304.2 467.3 300.9 464.7 298.3 462.2 296.7ZM483.2 319.3 486.5 317.3 490.2 320.1 486.5 322.7ZM456.4 338.6 458.9 334.7 463.1 338.6ZM492.9 326.8 498.3 322.7 503.3 321.0 508.3 325.2 514.2 326.8 515.9 333.6 516.7 340.3 512.5 344.5 506.7 347.0 500.8 347.8 496.6 343.6 494.1 337.7 488.2 333.6ZM512.5 344.5 513.4 349.5 506.7 350.3 500.8 352.8 497.4 354.5 501.6 359.5 505.0 365.4 506.7 370.4 510.8 368.8 512.5 364.6 517.6 369.6 523.4 374.6 530.1 377.1 536.8 379.0 543.5 382.2M516.7 340.3 517.6 346.1 520.1 352.8 525.1 360.4 529.3 361.2 533.5 352.8 536.8 347.0 541.9 343.6 544.4 338.6 550.3 336.1 555.3 339.4 563.0 342.8M527.6 326.0 532.6 325.2 535.5 331.0 531.0 332.7ZM460.5 357.9 464.7 354.5 474.8 353.7 480.7 356.2 485.7 360.4 487.4 366.3 482.3 363.7 474.8 362.1 466.4 362.1ZM241.4 379.0 247.3 384.0 251.4 390.7 255.6 393.3 258.2 390.4 263.2 393.3 264.5 384.0 264.9 379.0M266.5 394.9 271.6 396.6 276.6 395.4 283.3 399.1 288.3 401.6 291.7 405.8 300.1 407.8 305.1 408.3 308.5 402.1 313.5 405.0 320.2 408.3 326.1 411.7 326.9 417.6 333.6 418.4 340.3 419.2 340.3 431.8 335.3 429.3 329.4 426.8 324.4 428.5 317.7 425.9 311.8 424.3 305.1 422.6 300.1 420.1 293.4 419.2 286.7 420.1 281.6 418.4 274.9 415.0 270.7 410.9 265.7 407.5 261.5 405.8 264.0 400.0ZM326.1 410.0 331.1 409.2 335.3 408.3 336.1 410.5 332.8 412.5 326.9 413.4ZM387.4 379.0 385.8 385.7 385.3 390.7 389.9 391.6 393.3 390.4 393.3 384.0 393.6 379.0M405.9 379.0 409.2 381.5 411.7 388.2 415.1 392.4 418.5 389.1 418.8 382.4 417.6 379.0M343.8 427.6 348.0 426.8 351.0 429.3 348.9 432.7 345.5 431.8ZM356.4 428.5 359.8 427.6 358.9 435.2 355.6 435.2ZM362.3 431.0 366.5 429.3 370.7 431.0 372.3 425.1 375.7 428.5 379.0 427.6 380.7 432.7 376.5 433.5 372.3 435.2 368.2 437.7 364.0 437.7 361.8 435.2ZM389.9 429.3 394.1 427.6 400.0 428.5 405.0 431.0 410.1 429.3 414.3 425.9 416.8 423.4 417.6 426.8 414.3 431.0 408.4 434.3 401.7 436.0 395.0 435.2 390.8 433.5ZM381.9 443.6 386.6 441.9 393.3 443.6 398.3 447.7 396.7 452.8 392.5 451.9 387.4 447.7 383.2 446.1ZM421.8 454.5 423.5 446.1 428.5 439.4 434.4 435.2 438.6 431.8 445.3 429.3 452.0 428.5 454.5 429.3 447.0 434.3 440.3 439.4 436.1 444.4 431.9 449.4 426.8 453.6ZM421.0 427.6 424.3 427.3 424.8 429.3 421.8 430.1ZM429.4 426.8 436.1 427.6 430.2 430.1ZM442.8 419.2 448.6 417.6 447.8 422.6 443.6 422.9ZM536.8 379.0 543.5 382.4 550.3 387.4 553.6 395.8 555.6 405.8 557.8 414.2 552.8 415.9 550.3 422.6 548.2 428.5 553.6 427.6 558.6 425.1 563.0 424.6M520.1 389.9 521.4 395.8 520.1 404.2 516.7 409.2 516.4 400.8 518.4 394.1ZM492.9 411.7 494.1 415.9 491.9 421.8 490.2 420.9 490.7 415.0ZM480.7 474.6 483.2 468.7 487.4 470.9 491.6 468.7 493.2 472.9 489.0 477.1 484.9 475.4ZM563.1 424.6 568.9 423.9 571.4 429.3 575.6 435.2 579.8 437.7 586.5 438.5 592.4 440.2 596.6 437.7 598.6 433.5 596.9 429.3 599.9 424.3 603.3 420.1 606.7 417.2 610.8 417.2 616.7 420.9 622.6 424.3 625.1 431.0 627.6 436.8 632.6 442.7 636.8 450.3 645.2 452.8 653.6 455.3 657.8 457.8 660.3 461.2M618.4 379.0 620.1 384.0 620.9 389.9 626.8 393.3 633.5 395.8 637.7 400.8 639.4 405.8 635.2 407.5 631.5 408.3 631.8 412.5 635.2 419.2 641.9 424.3 644.4 432.7 647.7 437.7 651.1 436.8 650.3 442.7 655.3 445.2 660.3 446.1M641.9 389.9 648.6 391.6 655.3 391.1 660.3 389.4M644.4 393.3 648.6 395.8 651.9 400.0 660.3 400.5M584.0 489.0 584.9 479.6 587.4 474.6 588.2 467.0 590.7 462.0 593.2 464.5 594.9 472.9 597.4 483.0 599.1 489.0M383.2 585.2 389.9 584.3 398.0 581.5 400.0 579.8 403.4 575.6 406.7 567.2 410.9 560.5 409.7 550.4 414.3 542.9 417.3 538.4 419.3 544.6 421.5 550.8 425.2 544.6 422.6 538.7 424.3 533.7 429.4 536.2 431.5 530.3 432.7 524.4 436.1 519.4 437.7 513.5 443.3 513.5 445.0 509.4 449.5 507.7 452.0 503.5 456.2 504.3 460.4 509.4 463.7 514.4 463.4 521.1 467.1 516.9 470.4 516.1 474.6 519.4 477.2 520.3 478.0 515.2 474.6 511.0 476.3 506.0 478.8 501.0 483.0 497.6 482.2 491.7 484.7 486.7 488.9 482.0 500.6 481.7 504.8 478.3 507.3 471.6 515.7 475.0 522.4 478.3 530.0 480.8M530.0 480.8 534.2 485.0 537.5 480.8 541.7 483.4 539.2 490.1 538.4 495.1 533.4 505.2 532.5 510.2 530.0 515.2 530.0 519.4 536.7 524.4 538.4 530.3 545.1 531.2 551.8 537.9 560.2 543.4 563.5 549.6 569.4 555.5 574.4 553.8 577.8 551.3 578.6 543.7 582.8 532.0 584.0 518.6 583.3 505.2 584.5 491.7 584.5 480.0 584.0 473.3M595.4 473.3 596.3 480.0 600.4 491.7 601.3 501.8 603.0 509.4 605.5 511.0 609.7 508.8 616.4 517.7 617.2 528.6 618.1 538.7 623.1 548.8 623.9 555.5 623.1 562.2 626.4 571.4 630.6 575.6 634.8 576.4 640.7 584.8M563 342.8 L572.4 348.7 584.2 356.2 596.1 365 608 372.5 618.4 379M629.5 344.9 L631 343.9 633.5 344.2 634.3 345.3 632.5 346.2 630.2 346Z" fill="none" stroke="#0072bd" stroke-width="1.1" stroke-linejoin="round"/>

<path d="M123.5 214.8 L200 215.5 L240 216.7 L270 217.9 L300 219.5 L330 220.6 L390 220.6 L400 219.8 L420 218.4 L470 217.8 L476 217.2 L481 214.6 L505 214.3 L512 213.1 L600 213.1 L606 214.6 L625 215.6 L658.5 217.1" fill="none" stroke="#000" stroke-width="2" stroke-dasharray="8 7.8" stroke-dashoffset="-1.2"/>

</g>
<path d="M123.50 585.5v-5.4M123.50 49.5v5.4M212.67 585.5v-5.4M212.67 49.5v5.4M301.83 585.5v-5.4M301.83 49.5v5.4M391.00 585.5v-5.4M391.00 49.5v5.4M480.17 585.5v-5.4M480.17 49.5v5.4M569.33 585.5v-5.4M569.33 49.5v5.4M658.50 585.5v-5.4M658.50 49.5v5.4M123.5 585.50h5.4M658.5 585.50h-5.4M123.5 518.50h5.4M658.5 518.50h-5.4M123.5 451.50h5.4M658.5 451.50h-5.4M123.5 384.50h5.4M658.5 384.50h-5.4M123.5 317.50h5.4M658.5 317.50h-5.4M123.5 250.50h5.4M658.5 250.50h-5.4M123.5 183.50h5.4M658.5 183.50h-5.4M123.5 116.50h5.4M658.5 116.50h-5.4M123.5 49.50h5.4M658.5 49.50h-5.4" stroke="#262626" stroke-width="1" fill="none" shape-rendering="crispEdges"/>
<rect x="123.5" y="49.5" width="535.0" height="536.0" fill="none" stroke="#262626" stroke-width="1"/>
<text class="tk" x="122.90" y="614.8" text-anchor="middle">90</text>
<text class="tk" x="212.07" y="614.8" text-anchor="middle">100</text>
<text class="tk" x="301.23" y="614.8" text-anchor="middle">110</text>
<text class="tk" x="390.40" y="614.8" text-anchor="middle">120</text>
<text class="tk" x="479.57" y="614.8" text-anchor="middle">130</text>
<text class="tk" x="568.73" y="614.8" text-anchor="middle">140</text>
<text class="tk" x="657.90" y="614.8" text-anchor="middle">150</text>
<text class="tk" x="113.5" y="593.80" text-anchor="end">-20</text>
<text class="tk" x="113.5" y="526.80" text-anchor="end">-15</text>
<text class="tk" x="113.5" y="459.80" text-anchor="end">-10</text>
<text class="tk" x="113.5" y="392.80" text-anchor="end">-5</text>
<text class="tk" x="113.5" y="325.80" text-anchor="end">0</text>
<text class="tk" x="113.5" y="258.80" text-anchor="end">5</text>
<text class="tk" x="113.5" y="191.80" text-anchor="end">10</text>
<text class="tk" x="113.5" y="124.80" text-anchor="end">15</text>
<text class="tk" x="113.5" y="57.80" text-anchor="end">20</text>
<text class="lb" x="287.4" y="646.2">Geographic Lon. (<tspan dx="1.2" dy="1.4">°</tspan><tspan dx="1.2" dy="-1.4">)</tspan></text>
<text class="lb" transform="translate(70.8,415) rotate(-90)">Geographic Lat. (<tspan dx="1.2" dy="1.4">°</tspan><tspan dx="1.2" dy="-1.4">)</tspan></text>
<text class="tt" x="389.70" y="39.8" text-anchor="middle">29-Sep-2025; 00:00 UT</text>
<g shape-rendering="crispEdges"><rect x="697.5" y="577.125" width="42.0" height="8.675" fill="#00008f"/><rect x="697.5" y="568.750" width="42.0" height="8.675" fill="#00009f"/><rect x="697.5" y="560.375" width="42.0" height="8.675" fill="#0000af"/><rect x="697.5" y="552.000" width="42.0" height="8.675" fill="#0000bf"/><rect x="697.5" y="543.625" width="42.0" height="8.675" fill="#0000cf"/><rect x="697.5" y="535.250" width="42.0" height="8.675" fill="#0000df"/><rect x="697.5" y="526.875" width="42.0" height="8.675" fill="#0000ef"/><rect x="697.5" y="518.500" width="42.0" height="8.675" fill="#0000ff"/><rect x="697.5" y="510.125" width="42.0" height="8.675" fill="#0010ff"/><rect x="697.5" y="501.750" width="42.0" height="8.675" fill="#0020ff"/><rect x="697.5" y="493.375" width="42.0" height="8.675" fill="#0030ff"/><rect x="697.5" y="485.000" width="42.0" height="8.675" fill="#0040ff"/><rect x="697.5" y="476.625" width="42.0" height="8.675" fill="#0050ff"/><rect x="697.5" y="468.250" width="42.0" height="8.675" fill="#0060ff"/><rect x="697.5" y="459.875" width="42.0" height="8.675" fill="#0070ff"/><rect x="697.5" y="451.500" width="42.0" height="8.675" fill="#0080ff"/><rect x="697.5" y="443.125" width="42.0" height="8.675" fill="#008fff"/><rect x="697.5" y="434.750" width="42.0" height="8.675" fill="#009fff"/><rect x="697.5" y="426.375" width="42.0" height="8.675" fill="#00afff"/><rect x="697.5" y="418.000" width="42.0" height="8.675" fill="#00bfff"/><rect x="697.5" y="409.625" width="42.0" height="8.675" fill="#00cfff"/><rect x="697.5" y="401.250" width="42.0" height="8.675" fill="#00dfff"/><rect x="697.5" y="392.875" width="42.0" height="8.675" fill="#00efff"/><rect x="697.5" y="384.500" width="42.0" height="8.675" fill="#00ffff"/><rect x="697.5" y="376.125" width="42.0" height="8.675" fill="#10ffef"/><rect x="697.5" y="367.750" width="42.0" height="8.675" fill="#20ffdf"/><rect x="697.5" y="359.375" width="42.0" height="8.675" fill="#30ffcf"/><rect x="697.5" y="351.000" width="42.0" height="8.675" fill="#40ffbf"/><rect x="697.5" y="342.625" width="42.0" height="8.675" fill="#50ffaf"/><rect x="697.5" y="334.250" width="42.0" height="8.675" fill="#60ff9f"/><rect x="697.5" y="325.875" width="42.0" height="8.675" fill="#70ff8f"/><rect x="697.5" y="317.500" width="42.0" height="8.675" fill="#80ff80"/><rect x="697.5" y="309.125" width="42.0" height="8.675" fill="#8fff70"/><rect x="697.5" y="300.750" width="42.0" height="8.675" fill="#9fff60"/><rect x="697.5" y="292.375" width="42.0" height="8.675" fill="#afff50"/><rect x="697.5" y="284.000" width="42.0" height="8.675" fill="#bfff40"/><rect x="697.5" y="275.625" width="42.0" height="8.675" fill="#cfff30"/><rect x="697.5" y="267.250" width="42.0" height="8.675" fill="#dfff20"/><rect x="697.5" y="258.875" width="42.0" height="8.675" fill="#efff10"/><rect x="697.5" y="250.500" width="42.0" height="8.675" fill="#ffff00"/><rect x="697.5" y="242.125" width="42.0" height="8.675" fill="#ffef00"/><rect x="697.5" y="233.750" width="42.0" height="8.675" fill="#ffdf00"/><rect x="697.5" y="225.375" width="42.0" height="8.675" fill="#ffcf00"/><rect x="697.5" y="217.000" width="42.0" height="8.675" fill="#ffbf00"/><rect x="697.5" y="208.625" width="42.0" height="8.675" fill="#ffaf00"/><rect x="697.5" y="200.250" width="42.0" height="8.675" fill="#ff9f00"/><rect x="697.5" y="191.875" width="42.0" height="8.675" fill="#ff8f00"/><rect x="697.5" y="183.500" width="42.0" height="8.675" fill="#ff8000"/><rect x="697.5" y="175.125" width="42.0" height="8.675" fill="#ff7000"/><rect x="697.5" y="166.750" width="42.0" height="8.675" fill="#ff6000"/><rect x="697.5" y="158.375" width="42.0" height="8.675" fill="#ff5000"/><rect x="697.5" y="150.000" width="42.0" height="8.675" fill="#ff4000"/><rect x="697.5" y="141.625" width="42.0" height="8.675" fill="#ff3000"/><rect x="697.5" y="133.250" width="42.0" height="8.675" fill="#ff2000"/><rect x="697.5" y="124.875" width="42.0" height="8.675" fill="#ff1000"/><rect x="697.5" y="116.500" width="42.0" height="8.675" fill="#ff0000"/><rect x="697.5" y="108.125" width="42.0" height="8.675" fill="#ef0000"/><rect x="697.5" y="99.750" width="42.0" height="8.675" fill="#df0000"/><rect x="697.5" y="91.375" width="42.0" height="8.675" fill="#cf0000"/><rect x="697.5" y="83.000" width="42.0" height="8.675" fill="#bf0000"/><rect x="697.5" y="74.625" width="42.0" height="8.675" fill="#af0000"/><rect x="697.5" y="66.250" width="42.0" height="8.675" fill="#9f0000"/><rect x="697.5" y="57.875" width="42.0" height="8.675" fill="#8f0000"/><rect x="697.5" y="49.500" width="42.0" height="8.675" fill="#800000"/></g>
<path d="M697.5 49.5H739.5V585.5H697.5" fill="none" stroke="#262626" stroke-width="1"/><path d="M697.5 49.5V585.5" stroke="#262626" stroke-opacity="0.3" stroke-width="1"/>
<text class="ck" x="746.8" y="592.50">0</text>
<text class="ck" x="746.8" y="525.50">0.1</text>
<text class="ck" x="746.8" y="458.50">0.2</text>
<text class="ck" x="746.8" y="391.50">0.3</text>
<text class="ck" x="746.8" y="324.50">0.4</text>
<text class="ck" x="746.8" y="257.50">0.5</text>
<text class="ck" x="746.8" y="190.50">0.6</text>
<text class="ck" x="746.8" y="123.50">0.7</text>
<text class="ck" x="746.8" y="56.50">0.8</text>
<path d="M739.5 518.50h-5M739.5 451.50h-5M739.5 384.50h-5M739.5 317.50h-5M739.5 250.50h-5M739.5 183.50h-5M739.5 116.50h-5" stroke="#262626" stroke-width="1" fill="none" shape-rendering="crispEdges"/>
<text class="ck" transform="translate(800,316.6) rotate(-90)" text-anchor="middle">ROTI (TECU/min)</text>
</svg></body></html>
